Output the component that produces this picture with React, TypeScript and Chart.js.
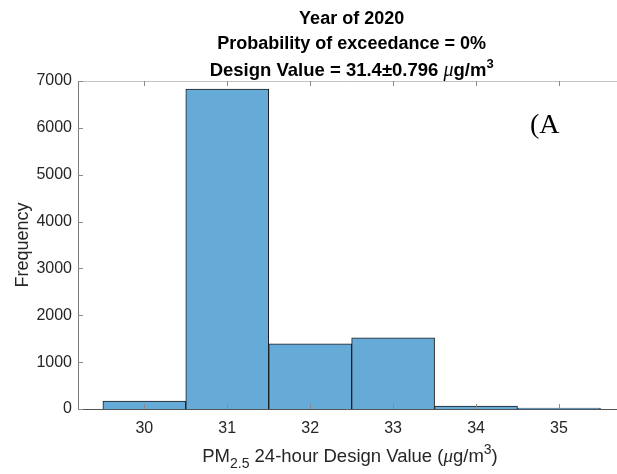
import React, { useEffect, useRef } from "react";
import { Chart, registerables } from "chart.js";

Chart.register(...registerables);

// ---- data ----
const binCenters = [30, 31, 32, 33, 34, 35];
const frequencies = [170, 6825, 1390, 1520, 60, 20];
const xTickValues = [30, 31, 32, 33, 34, 35];
const yTickValues = [0, 1000, 2000, 3000, 4000, 5000, 6000, 7000];
const xLimits = [29.2, 35.7];
const yLimits = [0, 7000];
const titleLine1 = "Year of 2020";
const titleLine2 = "Probability of exceedance = 0%";
const designValueText = "31.4±0.796";
const yAxisLabel = "Frequency";
const panelLabel = "(A";

const SANS = '"Liberation Sans", Arial, Helvetica, sans-serif';
const SERIF = '"Liberation Serif", "Times New Roman", serif';
const TEXT = "#262626";

type Seg = { text: string; font: string; dy?: number };

function drawRich(ctx: CanvasRenderingContext2D, segs: Seg[], cx: number, baseline: number) {
  let total = 0;
  const widths = segs.map((s) => {
    ctx.font = s.font;
    const w = ctx.measureText(s.text).width;
    total += w;
    return w;
  });
  let x = cx - total / 2;
  ctx.textAlign = "left";
  ctx.textBaseline = "alphabetic";
  segs.forEach((s, i) => {
    ctx.font = s.font;
    ctx.fillText(s.text, x, baseline + (s.dy || 0));
    x += widths[i];
  });
}

const decorPlugin = {
  id: "decor",
  afterDraw(chart: any) {
    const ctx: CanvasRenderingContext2D = chart.ctx;
    const { left, right, top, bottom } = chart.chartArea;
    const xs = chart.scales.x;
    const ys = chart.scales.y;
    ctx.save();

    // box lines
    ctx.lineWidth = 1;
    ctx.strokeStyle = "#c4c4c4";
    ctx.beginPath();
    ctx.moveTo(left, top + 0.5);
    ctx.lineTo(right, top + 0.5);
    ctx.stroke();
    ctx.strokeStyle = "#7a7a7a";
    ctx.beginPath();
    ctx.moveTo(left + 0.5, top);
    ctx.lineTo(left + 0.5, bottom);
    ctx.stroke();
    ctx.strokeStyle = "#555555";
    ctx.beginPath();
    ctx.moveTo(left, bottom + 0.5);
    ctx.lineTo(right, bottom + 0.5);
    ctx.stroke();

    // inner tick marks
    const tl = 5;
    ctx.strokeStyle = "#8a8a8a";
    ctx.beginPath();
    xTickValues.forEach((v) => {
      const px = Math.round(xs.getPixelForValue(v)) + 0.5;
      ctx.moveTo(px, bottom);
      ctx.lineTo(px, bottom - tl);
      ctx.moveTo(px, top);
      ctx.lineTo(px, top + tl);
    });
    yTickValues.forEach((v) => {
      const py = Math.round(ys.getPixelForValue(v)) + 0.5;
      ctx.moveTo(left, py);
      ctx.lineTo(left + tl, py);
    });
    ctx.stroke();

    // title
    const cx = xs.getPixelForValue(32.5);
    ctx.fillStyle = "#000";
    const bold = `bold 18px ${SANS}`;
    drawRich(ctx, [{ text: titleLine1, font: bold }], cx, 24);
    drawRich(ctx, [{ text: titleLine2, font: bold }], cx, 49);
    drawRich(
      ctx,
      [
        { text: `Design Value = ${designValueText} `, font: `bold 18.5px ${SANS}` },
        { text: "μ", font: `italic 20px ${SERIF}` },
        { text: "g/m", font: `bold 18.5px ${SANS}` },
        { text: "3", font: `bold 13px ${SANS}`, dy: -8 },
      ],
      cx,
      76
    );

    // x axis title
    ctx.fillStyle = TEXT;
    const f18 = `18.5px ${SANS}`;
    drawRich(
      ctx,
      [
        { text: "PM", font: f18 },
        { text: "2.5", font: `14px ${SANS}`, dy: 6 },
        { text: " 24-hour Design Value (", font: f18 },
        { text: "μ", font: `italic 19px ${SERIF}` },
        { text: "g/m", font: f18 },
        { text: "3", font: `14px ${SANS}`, dy: -8 },
        { text: ")", font: f18 },
      ],
      350,
      462
    );

    // y axis title
    ctx.save();
    ctx.translate(28, 245);
    ctx.rotate(-Math.PI / 2);
    ctx.font = `18px ${SANS}`;
    ctx.textAlign = "center";
    ctx.textBaseline = "alphabetic";
    ctx.fillText(yAxisLabel, 0, 0);
    ctx.restore();

    // panel label
    ctx.fillStyle = "#000";
    ctx.font = `28px ${SERIF}`;
    ctx.textAlign = "left";
    ctx.textBaseline = "alphabetic";
    ctx.fillText(panelLabel, 530, 133);

    ctx.restore();
  },
};

export default function App() {
  const ref = useRef<HTMLCanvasElement | null>(null);

  useEffect(() => {
    if (!ref.current) return;
    const chart = new Chart(ref.current, {
      type: "bar",
      data: {
        datasets: [
          {
            data: binCenters.map((x, i) => ({ x, y: frequencies[i] })),
            backgroundColor: "rgb(102,170,215)",
            borderColor: "#1c1c1c",
            borderWidth: 1,
            barPercentage: 1,
            categoryPercentage: 1,
          },
        ],
      },
      options: {
        responsive: false,
        animation: false,
        events: [],
        layout: { padding: { top: 81, left: 0, right: 0, bottom: 0 } },
        plugins: {
          legend: { display: false },
          tooltip: { enabled: false },
          title: { display: false },
        },
        scales: {
          x: {
            type: "linear",
            offset: false,
            min: xLimits[0],
            max: xLimits[1],
            grid: { display: false, drawTicks: false, offset: false },
            border: { display: false },
            afterBuildTicks: (s: any) => {
              s.ticks = xTickValues.map((v) => ({ value: v }));
            },
            afterFit: (s: any) => {
              s.height = 65;
            },
            ticks: {
              font: { family: SANS, size: 16 },
              color: TEXT,
              padding: 10,
              maxRotation: 0,
              autoSkip: false,
              callback: (v: any) => String(v),
            },
          },
          y: {
            type: "linear",
            min: yLimits[0],
            max: yLimits[1],
            grid: { display: false, drawTicks: false },
            border: { display: false },
            afterBuildTicks: (s: any) => {
              s.ticks = yTickValues.map((v) => ({ value: v }));
            },
            afterFit: (s: any) => {
              s.width = 78;
            },
            ticks: {
              font: { family: SANS, size: 16 },
              color: TEXT,
              padding: 6,
              autoSkip: false,
              callback: (v: any) => String(v),
            },
          },
        },
      },
      plugins: [decorPlugin],
    } as any);
    return () => chart.destroy();
  }, []);

  return (
    <div style={{ position: "fixed", left: 0, top: 0, width: 617, height: 474, background: "#fff" }}>
      <canvas ref={ref} width={617} height={474} style={{ display: "block" }} />
    </div>
  );
}
